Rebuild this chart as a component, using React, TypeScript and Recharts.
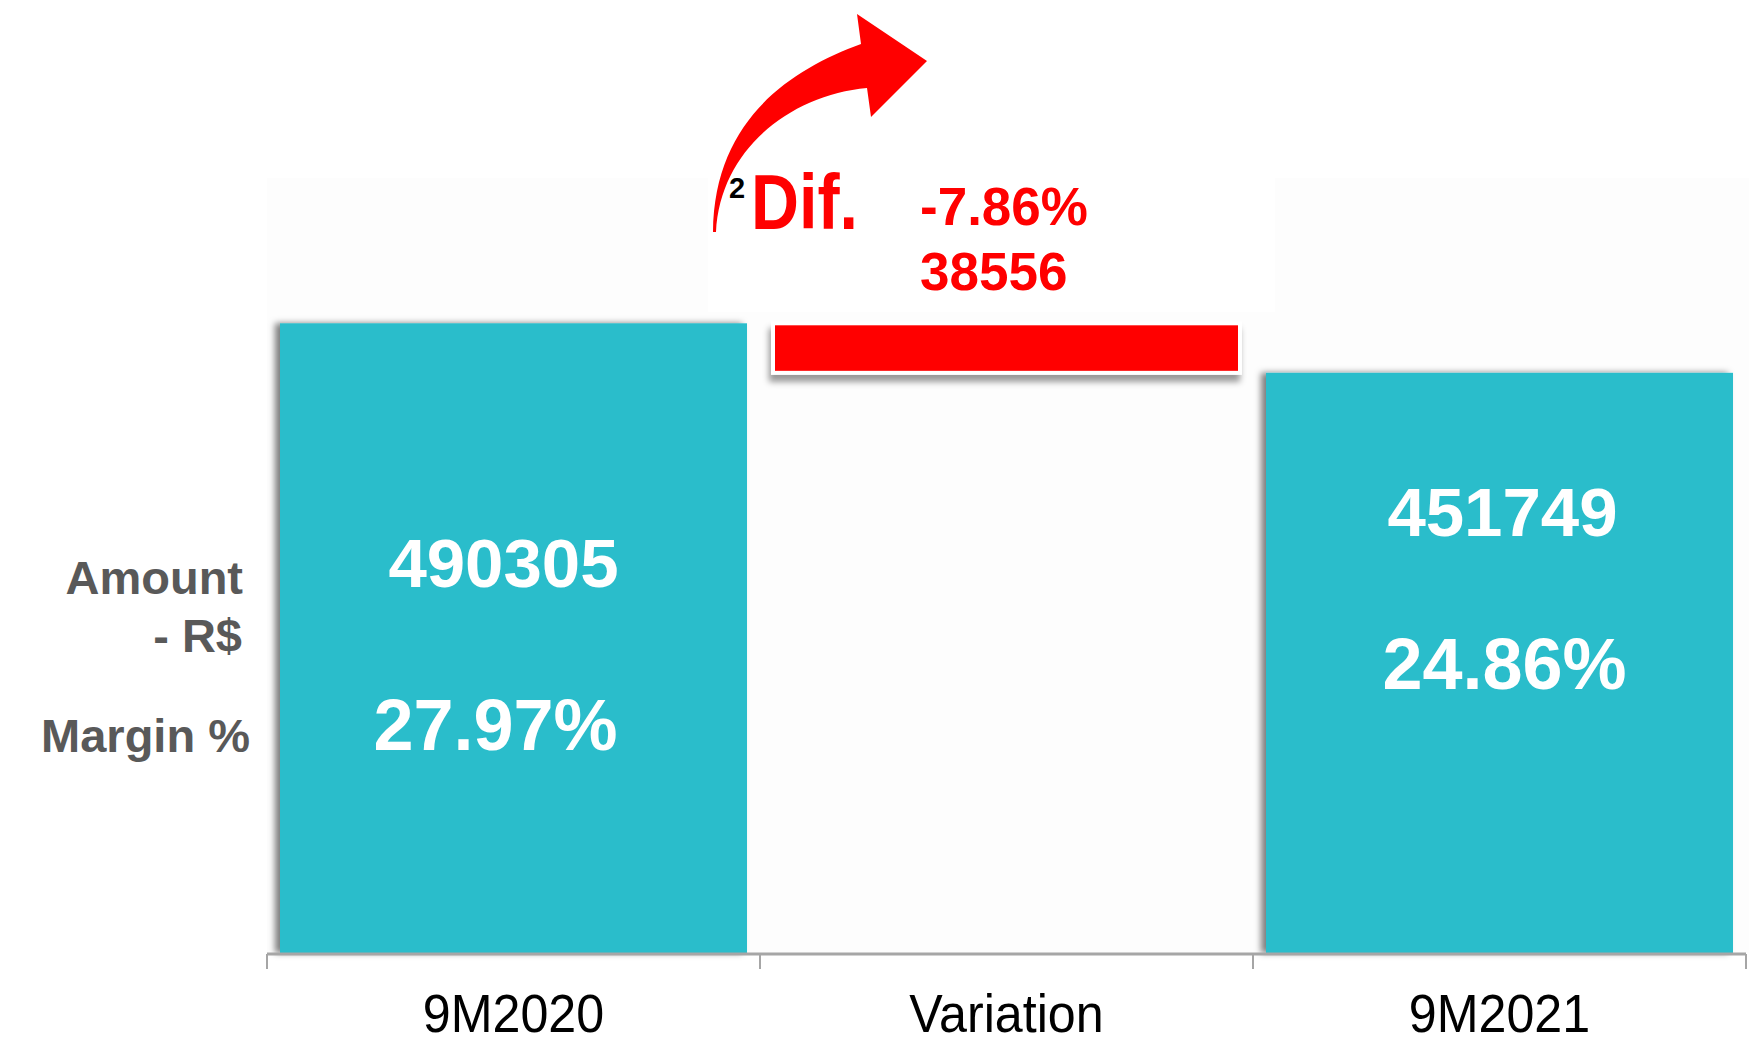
import React from "react";
import { BarChart, Bar, XAxis, YAxis, Cell, LabelList } from "recharts";

// waterfall: 9M2020 -> variation -> 9M2021
const categories = ["9M2020", "Variation", "9M2021"];
const amounts = [490305, 38556, 451749];
const bases = [0, 451749, 0];
const margins = ["27.97%", "-7.86%", "24.86%"];
const barColors = ["#29BDCB", "#FF0000", "#29BDCB"];
// category boundaries on the ticks-only axis
const edgeTicks = [0, 1, 2, 3];

const data = categories.map((name, i) => ({
  name,
  pos: i + 0.5,
  base: bases[i],
  value: amounts[i],
}));

const W = 1749;
const H = 1042;
const BOLD = "'Liberation Sans', Arial, sans-serif";

// label placement relative to each bar's top / centre
const labelLayout = [
  { ax: -10, ay: 264, mx: -18, my: 427 },
  { ax: 147, ay: -33, mx: 147, my: -98 },
  { ax: 3, ay: 163, mx: 5, my: 316 },
];

function BarShape(props: any) {
  const { x, y, width, height, fill, index } = props;
  if (!height || height <= 0) return null;
  if (index === 1) {
    return (
      <rect
        x={x}
        y={y}
        width={width}
        height={height}
        fill={fill}
        stroke="#ffffff"
        strokeWidth={4}
        filter="url(#shadowDown)"
      />
    );
  }
  return <rect x={x} y={y} width={width} height={height} fill={fill} filter="url(#shadowLeft)" />;
}

function ValueLabel(props: any) {
  const { x, y, width, index } = props;
  const L = labelLayout[index];
  if (!L) return null;
  if (index === 1) {
    return (
      <g fontFamily={BOLD} fontWeight="bold" fontSize={53} fill="#FF0000">
        <text x={x + L.mx} y={y + L.my}>{margins[index]}</text>
        <text x={x + L.ax} y={y + L.ay}>{amounts[index]}</text>
      </g>
    );
  }
  const cx = x + width / 2;
  return (
    <g fontFamily={BOLD} fontWeight="bold" fill="#ffffff" textAnchor="middle">
      <text x={cx + L.ax} y={y + L.ay} fontSize={69}>{amounts[index]}</text>
      <text x={cx + L.mx} y={y + L.my} fontSize={72}>{margins[index]}</text>
    </g>
  );
}

// narrow look of the original category labels
function CategoryTick(props: any) {
  const { x, y, payload } = props;
  return (
    <g transform={`translate(${x},${y + 79}) scale(0.93,1)`}>
      <text x={0} y={0} textAnchor="middle" fontFamily="'Liberation Sans', Arial, sans-serif" fontSize={54} fill="#000">
        {payload.value}
      </text>
    </g>
  );
}

const EmptyTick = () => <g />;

export default function App() {
  return (
    <div style={{ position: "absolute", left: 0, top: 0, width: W, height: H, background: "#fff" }}>
      <svg width={W} height={H} style={{ position: "absolute", left: 0, top: 0 }}>
        <defs>
          <filter id="shadowLeft" x="-5%" y="-5%" width="110%" height="110%">
            <feDropShadow dx={-5} dy={0} stdDeviation={3} floodColor="#000" floodOpacity={0.5} />
          </filter>
          <filter id="shadowDown" x="-5%" y="-30%" width="110%" height="180%">
            <feDropShadow dx={-2} dy={7} stdDeviation={3} floodColor="#000" floodOpacity={0.4} />
          </filter>
        </defs>
        <rect x={267} y={178} width={W - 267} height={775} fill="#FDFDFD" />
        <rect x={708} y={175} width={567} height={137} fill="#ffffff" />
      </svg>

      <div style={{ position: "absolute", left: 0, top: 0 }}>
        <BarChart
          width={W}
          height={H}
          data={data}
          margin={{ top: 54, right: 3, bottom: 87, left: 267 }}
          barCategoryGap={13}
        >
          <XAxis
            xAxisId="edges"
            dataKey="pos"
            type="number"
            domain={[0, 3]}
            ticks={edgeTicks}
            interval={0}
            allowDataOverflow
            height={1}
            tick={<EmptyTick />}
            tickSize={15}
            axisLine={{ stroke: "#A6A6A6", strokeWidth: 3 }}
            tickLine={{ stroke: "#A6A6A6", strokeWidth: 2 }}
          />
          <XAxis
            dataKey="name"
            height={1}
            axisLine={false}
            tickLine={false}
            tickSize={0}
            tickMargin={0}
            interval={0}
            tick={<CategoryTick />}
          />
          <YAxis hide domain={[0, 700000]} />
          <Bar dataKey="base" stackId="w" fill="transparent" isAnimationActive={false} />
          <Bar dataKey="value" stackId="w" shape={<BarShape />} isAnimationActive={false}>
            {data.map((d, i) => (
              <Cell key={d.name} fill={barColors[i]} />
            ))}
            <LabelList dataKey="value" content={<ValueLabel />} />
          </Bar>
        </BarChart>
      </div>

      <svg width={W} height={H} style={{ position: "absolute", left: 0, top: 0, pointerEvents: "none" }}>
        <path
          d="M 713 232 C 714 120, 790 70, 861 44 L 857 14 L 927 61 L 871 117 L 867 88 C 790 95, 720 150, 716 232 Z"
          fill="#FF0000"
        />
        <text x={729} y={198} fontFamily={BOLD} fontWeight="bold" fontSize={29} fill="#000">2</text>
        <text
          x={751}
          y={229}
          fontFamily={BOLD}
          fontWeight="bold"
          fontSize={78}
          fill="#FF0000"
          textLength={107}
          lengthAdjust="spacingAndGlyphs"
        >
          Dif.
        </text>
        <g fontFamily={BOLD} fontWeight="bold" fontSize={47} fill="#595959" textAnchor="end">
          <text x={243} y={594}>Amount</text>
          <text x={242} y={652}>- R$</text>
          <text x={250} y={752}>Margin %</text>
        </g>
      </svg>
    </div>
  );
}
